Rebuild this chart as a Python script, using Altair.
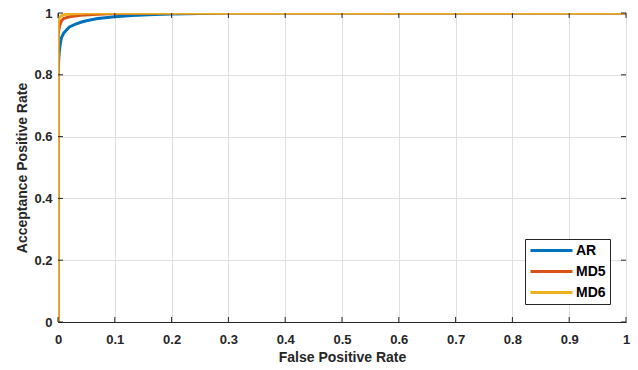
import altair as alt
import pandas as pd

ar_x = [0, 0, 0.001, 0.002, 0.004, 0.006, 0.01, 0.015, 0.02, 0.03, 0.04, 0.05, 0.07, 0.1, 0.13, 0.17, 0.2, 0.25, 0.3, 0.5, 1.0]
ar_y = [0, 0.80, 0.84, 0.87, 0.90, 0.92, 0.935, 0.945, 0.955, 0.963, 0.97, 0.975, 0.982, 0.988, 0.992, 0.995, 0.997, 0.998, 1.0, 1.0, 1.0]
md5_x = [0, 0, 0.001, 0.003, 0.006, 0.01, 0.02, 0.04, 0.07, 0.1, 0.2, 1.0]
md5_y = [0, 0.90, 0.94, 0.96, 0.975, 0.982, 0.988, 0.993, 0.996, 0.998, 1.0, 1.0]
md6_x = [0, 0, 0.002, 0.005, 0.01, 0.02, 0.05, 1.0]
md6_y = [0, 0.97, 0.985, 0.99, 0.994, 0.997, 1.0, 1.0]

series_names = ["AR", "MD5", "MD6"]
colors = ["#0072BD", "#D95319", "#EDB120"]
x_ticks = [0, 0.1, 0.2, 0.3, 0.4, 0.5, 0.6, 0.7, 0.8, 0.9, 1]
y_ticks = [0, 0.2, 0.4, 0.6, 0.8, 1]

rows = []
for name, xs, ys in zip(series_names, [ar_x, md5_x, md6_x], [ar_y, md5_y, md6_y]):
    for i, (a, b) in enumerate(zip(xs, ys)):
        rows.append({"fpr": a, "tpr": b, "series": name, "i": i})
df = pd.DataFrame(rows)

W, H = 568, 309
FONT = "Liberation Sans"
TXT = "#262626"

xs = alt.Scale(domain=[0, 1], nice=False)
ys = alt.Scale(domain=[0, 1], nice=False)

lines = alt.Chart(df).mark_line(strokeWidth=3, clip=True).encode(
    x=alt.X("fpr:Q", scale=xs, title="False Positive Rate",
            axis=alt.Axis(values=x_ticks, grid=True, gridColor="#e0e0e0", tickSize=0,
                          labelPadding=11, labelFontSize=13, labelFontWeight="bold",
                          labelColor=TXT, titleFontSize=14, titleFontWeight="bold",
                          titleColor=TXT, titlePadding=4, domainColor=TXT,
                          labelFlush=False, format="~g")),
    y=alt.Y("tpr:Q", scale=ys, title="Acceptance Positive Rate",
            axis=alt.Axis(values=y_ticks, grid=True, gridColor="#e0e0e0", tickSize=0,
                          labelPadding=6, labelFontSize=13, labelFontWeight="bold",
                          labelColor=TXT, titleFontSize=14, titleFontWeight="bold",
                          titleColor=TXT, titlePadding=4, domainColor=TXT,
                          labelFlush=False, format="~g")),
    color=alt.Color("series:N", scale=alt.Scale(domain=series_names, range=colors),
                    legend=alt.Legend(title=None, orient="none", legendX=467, legendY=226,
                                      symbolType="stroke", symbolStrokeWidth=3, symbolSize=1764,
                                      clipHeight=15,
                                      labelFontSize=14, labelFontWeight="bold", labelColor="#000000",
                                      strokeColor=TXT, fillColor="white", padding=4,
                                      rowPadding=6, labelOffset=2)),
    order="i:Q",
)

xt = pd.DataFrame({"v": x_ticks})
yt = pd.DataFrame({"v": y_ticks})
xb = alt.Chart(xt).mark_rule(color=TXT).encode(x=alt.X("v:Q", scale=xs), y=alt.value(H), y2=alt.value(H - 5))
xtop = alt.Chart(xt).mark_rule(color=TXT).encode(x=alt.X("v:Q", scale=xs), y=alt.value(0), y2=alt.value(5))
yl = alt.Chart(yt).mark_rule(color=TXT).encode(y=alt.Y("v:Q", scale=ys), x=alt.value(0), x2=alt.value(5))
yr = alt.Chart(yt).mark_rule(color=TXT).encode(y=alt.Y("v:Q", scale=ys), x=alt.value(W), x2=alt.value(W - 5))

chart = alt.layer(lines, xb, xtop, yl, yr).properties(
    width=W, height=H,
    autosize=alt.AutoSizeParams(type="none"),
    padding={"left": 58, "top": 13, "right": 12, "bottom": 48},
).configure_view(stroke=TXT, strokeWidth=1).configure(font=FONT)

chart.save("out.html", embed_options={"renderer": "svg", "actions": False})
